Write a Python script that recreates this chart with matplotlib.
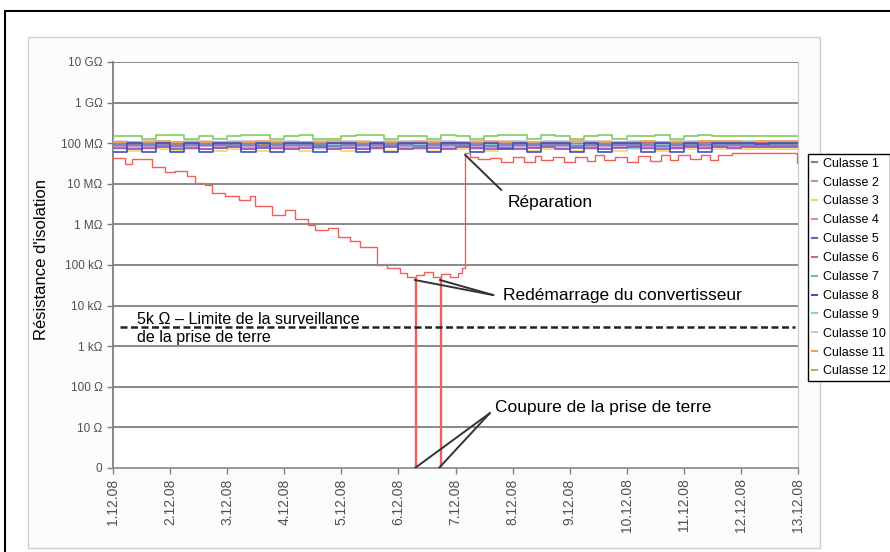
import numpy as np
import matplotlib
matplotlib.use("Agg")
import matplotlib.pyplot as plt
from matplotlib.lines import Line2D
from matplotlib.patches import Rectangle

plt.rcParams["font.family"] = ["Liberation Sans", "DejaVu Sans"]

# --- Data ---
DATE_LABELS = ["1.12.08", "2.12.08", "3.12.08", "4.12.08", "5.12.08", "6.12.08", "7.12.08",
               "8.12.08", "9.12.08", "10.12.08", "11.12.08", "12.12.08", "13.12.08"]
Y_LABELS = ["0", "10 Ω", "100 Ω", "1 kΩ", "10 kΩ", "100 kΩ", "1 MΩ", "10 MΩ",
            "100 MΩ", "1 GΩ", "10 GΩ"]
LIMIT_OHM = 3000  # dashed line as drawn

# sample times for the healthy phases (days from 1.12.08, every 6 h)
t_band = np.arange(49) * 0.25

# resistance in MΩ
c1 = [92, 88, 92, 92, 85, 92, 92, 88, 92, 92, 85, 92, 92, 88, 92, 85, 92, 92, 88, 92, 92,
      85, 92, 92, 88, 92, 85, 92, 92, 88, 92, 92, 85, 92, 92, 88, 92, 92, 85, 92, 92, 92,
      92, 92, 92, 92, 92, 92, 92]
c2 = [85, 80, 85, 85, 80, 85, 85, 82, 85, 80, 85, 85, 80, 85, 85, 80, 85, 85, 82, 85, 80,
      85, 85, 80, 85, 85, 80, 85, 85, 80, 85, 85, 80, 85, 85, 80, 85, 85, 80, 85, 85, 85,
      85, 85, 85, 85, 85, 85, 85]
c3 = [70, 64, 70, 70, 64, 70, 70, 64, 70, 70, 64, 70, 70, 64, 70, 70, 64, 70, 70, 64, 70,
      70, 64, 70, 70, 70, 64, 70, 70, 64, 70, 70, 64, 70, 70, 64, 70, 70, 64, 70, 70, 70,
      70, 70, 70, 70, 70, 70, 70]
c5 = [78, 72, 78, 80, 72, 78, 72, 78, 80, 72, 78, 78, 72, 78, 80, 72, 78, 72, 78, 80, 72,
      78, 78, 72, 80, 78, 72, 78, 72, 78, 80, 72, 78, 78, 72, 78, 80, 78, 72, 78, 80, 78,
      80, 78, 80, 80, 80, 80, 80]
c6 = [100, 98, 100, 100, 96, 100, 100, 98, 100, 100, 96, 100, 100, 98, 100, 96, 100, 100,
      98, 100, 100, 96, 100, 100, 98, 100, 96, 100, 100, 98, 100, 100, 96, 100, 100, 98,
      100, 100, 96, 100, 100, 100, 100, 100, 100, 100, 100, 100, 100]
c7 = [95, 92, 95, 95, 90, 95, 95, 92, 95, 95, 90, 95, 95, 92, 95, 90, 95, 95, 92, 95, 95,
      90, 95, 95, 92, 95, 90, 95, 95, 92, 95, 95, 90, 95, 95, 92, 95, 95, 90, 95, 95, 95,
      95, 95, 95, 95, 95, 95, 95]
c8 = [62, 100, 62, 100, 62, 100, 62, 100, 100, 62, 100, 62, 100, 100, 62, 100, 100, 62,
      100, 62, 100, 100, 62, 100, 100, 62, 100, 70, 100, 62, 100, 100, 62, 100, 62, 100,
      100, 62, 100, 62, 100, 62, 100, 100, 100, 95, 100, 100, 100]
c9 = [88, 78, 90, 90, 75, 90, 88, 78, 90, 90, 75, 90, 88, 90, 78, 90, 90, 75, 88, 90, 78,
      90, 90, 78, 90, 75, 90, 90, 78, 90, 90, 75, 90, 90, 78, 90, 75, 90, 90, 78, 90, 90,
      90, 90, 88, 90, 90, 90, 90]
c10 = [112, 110, 112, 112, 108, 112, 112, 110, 112, 112, 108, 112, 112, 110, 112, 108,
       112, 112, 110, 112, 112, 108, 112, 112, 110, 112, 108, 112, 112, 110, 112, 112, 108,
       112, 112, 110, 112, 112, 108, 112, 112, 112, 112, 112, 112, 112, 112, 112, 112]
c11 = [105, 108, 105, 112, 105, 105, 110, 105, 108, 105, 112, 105, 105, 110, 105, 112, 105,
       105, 110, 105, 108, 112, 105, 105, 110, 105, 112, 105, 105, 110, 105, 108, 112, 105,
       105, 110, 105, 112, 105, 110, 105, 112, 112, 112, 110, 112, 112, 112, 112]
c12 = [150, 150, 128, 155, 155, 128, 150, 128, 150, 155, 155, 128, 150, 155, 128, 128, 150,
       155, 155, 128, 150, 150, 128, 155, 150, 128, 150, 155, 155, 128, 155, 150, 128, 150,
       155, 128, 150, 150, 155, 128, 150, 155, 150, 150, 150, 150, 150, 150, 150]

# faulty cylinder head (Culasse 4): step times (days) and MΩ, 0 = earth cut
red_days = [0.0, 0.21, 0.33, 0.68, 0.91, 1.09, 1.29, 1.44, 1.61, 1.73, 1.96, 2.20, 2.40,
            2.49, 2.78, 3.01, 3.19, 3.42, 3.54, 3.77, 3.94, 4.15, 4.33, 4.62, 4.80, 5.03,
            5.15, 5.29, 5.31, 5.45, 5.60, 5.73, 5.75, 5.90, 6.05, 6.12, 6.17, 6.25, 6.40,
            6.60, 6.80, 7.00, 7.20, 7.40, 7.50, 7.70, 7.90, 8.10, 8.30, 8.45, 8.60, 8.80,
            9.00, 9.20, 9.40, 9.60, 9.75, 9.90, 10.10, 10.30, 10.45, 10.60, 10.84, 11.98, 12.0]
red_mohm = [44, 30, 41, 26, 19.5, 21, 15.5, 10.5, 9.3, 5.9, 5.0, 4.0, 5.0,
            2.8, 1.7, 2.2, 1.35, 0.95, 0.72, 0.8, 0.5, 0.4, 0.275, 0.1, 0.083, 0.063,
            0.05, 0, 0.056, 0.066, 0.052, 0, 0.06, 0.052, 0.063, 0.085, 57, 46, 40,
            42, 35, 45, 35, 48, 38, 46, 35, 46, 36, 50, 38, 45,
            35, 48, 37, 50, 38, 52, 40, 52, 38, 52, 57, 32, 32]

band = {
    "Culasse 1": (c1, "#7080b8"), "Culasse 2": (c2, "#d080d0"),
    "Culasse 3": (c3, "#f0d860"), "Culasse 5": (c5, "#9050b8"),
    "Culasse 6": (c6, "#c87070"), "Culasse 7": (c7, "#60c0a8"),
    "Culasse 8": (c8, "#4050c0"), "Culasse 9": (c9, "#80d0e8"),
    "Culasse 10": (c10, "#c8c8c8"), "Culasse 11": (c11, "#f0a050"),
    "Culasse 12": (c12, "#80cc60"),
}
RED = "#f0605a"
legend_order = ["Culasse %d" % i for i in range(1, 13)]


def level(mohm):
    r = np.asarray(mohm, dtype=float) * 1e6
    return np.where(r > 0, np.log10(np.where(r > 0, r, 1)), 0)


# --- Plot ---
W, H = 890, 552
fig = plt.figure(figsize=(W / 100, H / 100), dpi=100)

# outer frame and panel (behind the axes)
fig.patches.append(Rectangle((5 / W, -0.1), 1.2, 1.1 - 11 / H, transform=fig.transFigure,
                             fill=False, edgecolor="black", lw=1.5, zorder=-10))
fig.patches.append(Rectangle((28 / W, 1 - 548 / H), 792 / W, 511 / H,
                             transform=fig.transFigure, facecolor="#fcfcfc",
                             edgecolor="#d0d0d0", lw=1, zorder=-9))

ax = fig.add_axes([113 / W, 84 / H, 685 / W, 406 / H])
ax.set_facecolor("white")

for y in range(1, 11):
    ax.axhline(y, color="#808080", lw=1.3, zorder=1)

draw_order = ["Culasse 10", "Culasse 7", "Culasse 6", "Culasse 11", "Culasse 2",
              "Culasse 3", "Culasse 9", "Culasse 1", "Culasse 5", "Culasse 12", "Culasse 8"]
for name in draw_order:
    vals, col = band[name]
    ax.plot(t_band, level(vals), drawstyle="steps-post", color=col, lw=1.2, zorder=3)
ax.plot(red_days, level(red_mohm), drawstyle="steps-post", color=RED, lw=1.0, zorder=4)

# limit line
lim = np.log10(LIMIT_OHM)
ax.plot([0.12, 11.95], [lim, lim], color="#222222", lw=1.8, dashes=(2.8, 1.4), zorder=5)
ax.text(0.42, 3.55, "5k Ω – Limite de la surveillance", fontsize=11.5, va="baseline", zorder=6)
ax.text(0.42, 3.10, "de la prise de terre", fontsize=11.5, va="baseline", zorder=6)

# annotations
lc = "#333333"
ax.plot([6.17, 6.80], [7.71, 6.85], color=lc, lw=1.4, zorder=6)
ax.text(6.92, 6.53, "Réparation", fontsize=12.5, va="center")
for x0 in (5.29, 5.73):
    ax.plot([x0, 6.66], [4.63, 4.26], color=lc, lw=1.4, zorder=6)
ax.text(6.83, 4.26, "Redémarrage du convertisseur", fontsize=12.5, va="center")
for x0 in (5.29, 5.71):
    ax.plot([x0, 6.60], [0.0, 1.35], color=lc, lw=1.4, zorder=6)
ax.text(6.70, 1.50, "Coupure de la prise de terre", fontsize=12.5, va="center")

ax.set_xlim(0, 12)
ax.set_ylim(0, 10)
ax.set_xticks(range(13))
ax.set_xticklabels(DATE_LABELS, rotation=90, fontsize=10, color="#505050")
ax.set_yticks(range(11))
ax.set_yticklabels(Y_LABELS, fontsize=8.5, color="#505050")
ax.tick_params(direction="out", length=4, color="#808080", width=1)

ax.spines["top"].set_visible(False)
ax.spines["left"].set_color("#808080")
ax.spines["left"].set_linewidth(1.3)
ax.spines["bottom"].set_color("#909090")
ax.spines["bottom"].set_linewidth(1.3)
ax.spines["right"].set_color("#c8c8c8")

fig.text(42 / W, 1 - 260 / H, "Résistance d'isolation", rotation=90, fontsize=12,
         ha="center", va="center")

colors = {name: c for name, (v, c) in band.items()}
colors["Culasse 4"] = "#f08878"
handles = [Line2D([], [], color=colors[n], lw=1.5) for n in legend_order]
leg = ax.legend(handles, legend_order, loc="upper left",
                bbox_to_anchor=(808 / W, 1 - 154 / H), bbox_transform=fig.transFigure,
                fontsize=9, frameon=True, fancybox=False, framealpha=1,
                edgecolor="black", borderpad=0.3, handlelength=0.4, handletextpad=0.5,
                labelspacing=0.55, borderaxespad=0)
leg.get_frame().set_linewidth(1.0)

fig.savefig("out.png", dpi=100)
